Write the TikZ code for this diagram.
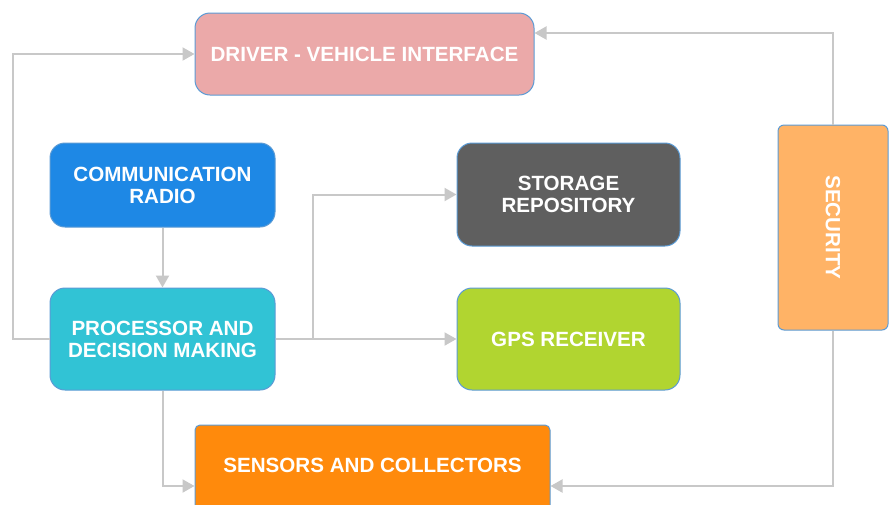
\documentclass[tikz,border=0pt]{standalone}
\usepackage{fontspec}
\setmainfont{Liberation Sans}
\usetikzlibrary{arrows.meta}
\definecolor{rim}{HTML}{5B9BD5}
\definecolor{wire}{HTML}{C8C8C8}
\definecolor{cdrv}{HTML}{EBA9A9}
\definecolor{cradio}{HTML}{1E88E5}
\definecolor{cstore}{HTML}{5F5F5F}
\definecolor{csec}{HTML}{FFB366}
\definecolor{cproc}{HTML}{31C3D5}
\definecolor{cgps}{HTML}{B1D530}
\definecolor{csens}{HTML}{FF8A0C}
\newcommand{\bx}{\fontsize{20.6}{22}\selectfont\bfseries}

\begin{document}
\begin{tikzpicture}[x=1pt,y=-1pt,
   block/.style={draw=rim,line width=1pt,rounded corners=15pt,text=white,
                 align=center,font=\bx,inner sep=0pt},
   link/.style={draw=wire,line width=2pt,-{Triangle[length=12pt,width=13pt]}}]
   \useasboundingbox[fill=white] (0,0) rectangle (890,504);
   \node[block,fill=cdrv,minimum width=339pt,minimum height=82pt] (drv) at (364.5,54) {DRIVER - VEHICLE INTERFACE};
   \node[block,fill=cradio,minimum width=225pt,minimum height=84pt] (radio) at (162.5,185) {COMMUNICATION\\RADIO};
   \node[block,fill=cproc,minimum width=225pt,minimum height=102pt] (proc) at (162.5,339) {PROCESSOR AND\\DECISION MAKING};
   \node[block,fill=cstore,minimum width=223pt,minimum height=103pt] (store) at (568.5,194.5) {STORAGE\\REPOSITORY};
   \node[block,fill=cgps,minimum width=223pt,minimum height=102pt] (gps) at (568.5,339) {GPS RECEIVER};
   % turned on its side: width runs down the page
   \node[block,fill=csec,rounded corners=6pt,minimum width=205pt,minimum height=110pt,rotate=-90] (sec) at (833,227.5) {SECURITY};
   % runs off the bottom edge, text kept high
   \node[block,fill=csens,rounded corners=5pt,minimum width=355pt,minimum height=90pt,text depth=10pt] (sens) at (372.5,470) {SENSORS AND COLLECTORS};
   \draw[link] (proc.west) -- ++(-37,0) |- (drv.west);
   \draw[link] (radio.south) -- (proc.north);
   \draw[link] (proc.east) -- ++(37,0) |- (store.west);
   \draw[link] (proc.east) -- (gps.west);
   \draw[link] (proc.south) |- ([yshift=-16pt]sens.west);
   \draw[link] (sec.west) |- ([yshift=21pt]drv.east);
   \draw[link] (sec.east) |- ([yshift=-16pt]sens.east);
\end{tikzpicture}
\end{document}
